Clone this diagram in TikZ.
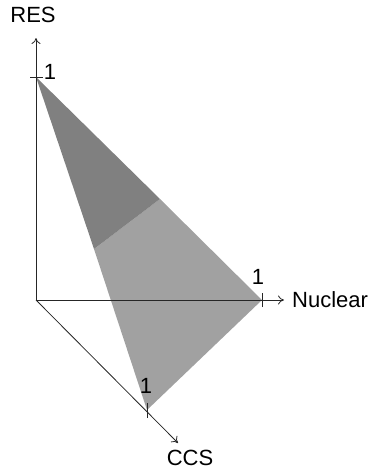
\documentclass[tikz,border=0pt]{standalone}
\usepackage{fontspec}
\setmainfont{Liberation Sans}
\usetikzlibrary{arrows.meta}
\begin{document}
\begin{tikzpicture}[x=1pt,y=-1pt,
  axis/.style={line width=0.8pt,draw=black!85,-{To[length=6pt,width=9pt]}},
  tick/.style={line width=0.8pt,draw=black!85},
  lbl/.style={font=\fontsize{22}{26}\selectfont,inner sep=0pt},
  darkfill/.style={fill=black!50,draw=none},
  lightfill/.style={fill=black!37,draw=none}]
\useasboundingbox (0,0) rectangle (370,471);
\coordinate (O) at (36,300);
\coordinate (Rt) at (36,38);
\coordinate (Nt) at (284,300);
\coordinate (Ct) at (178,443);
\coordinate (R1) at (36,77);
\coordinate (N1) at (262,300);
\coordinate (C1) at (147,410);
\coordinate (P) at (160,199);
\coordinate (Q) at (94,249);
% regions
\path[lightfill] (Q) -- (P) -- (N1) -- (C1) -- cycle;
\path[darkfill] (R1) -- (P) -- (Q) -- cycle;
% axes
\draw[axis] (O) -- (Rt);
\draw[axis] (O) -- (Nt);
\draw[axis] (O) -- (Ct);
% ticks
\draw[tick] ([xshift=-6pt]R1) -- ([xshift=7pt]R1);
\draw[tick] ([yshift=-7pt]N1) -- ([yshift=7pt]N1);
\draw[tick] ([yshift=-8pt]C1) -- ([yshift=7pt]C1);
% labels
\node[lbl] (lres) at (33,15) {RES};
\node[lbl] (lnuc) at (292,300) [anchor=west] {Nuclear};
\node[lbl] (lccs) at (190,458) {CCS};
\node[lbl] (r1) at (50,72) {1};
\node[lbl] (n1) at (258,277) {1};
\node[lbl] (c1) at (146,386) {1};
\end{tikzpicture}
\end{document}
